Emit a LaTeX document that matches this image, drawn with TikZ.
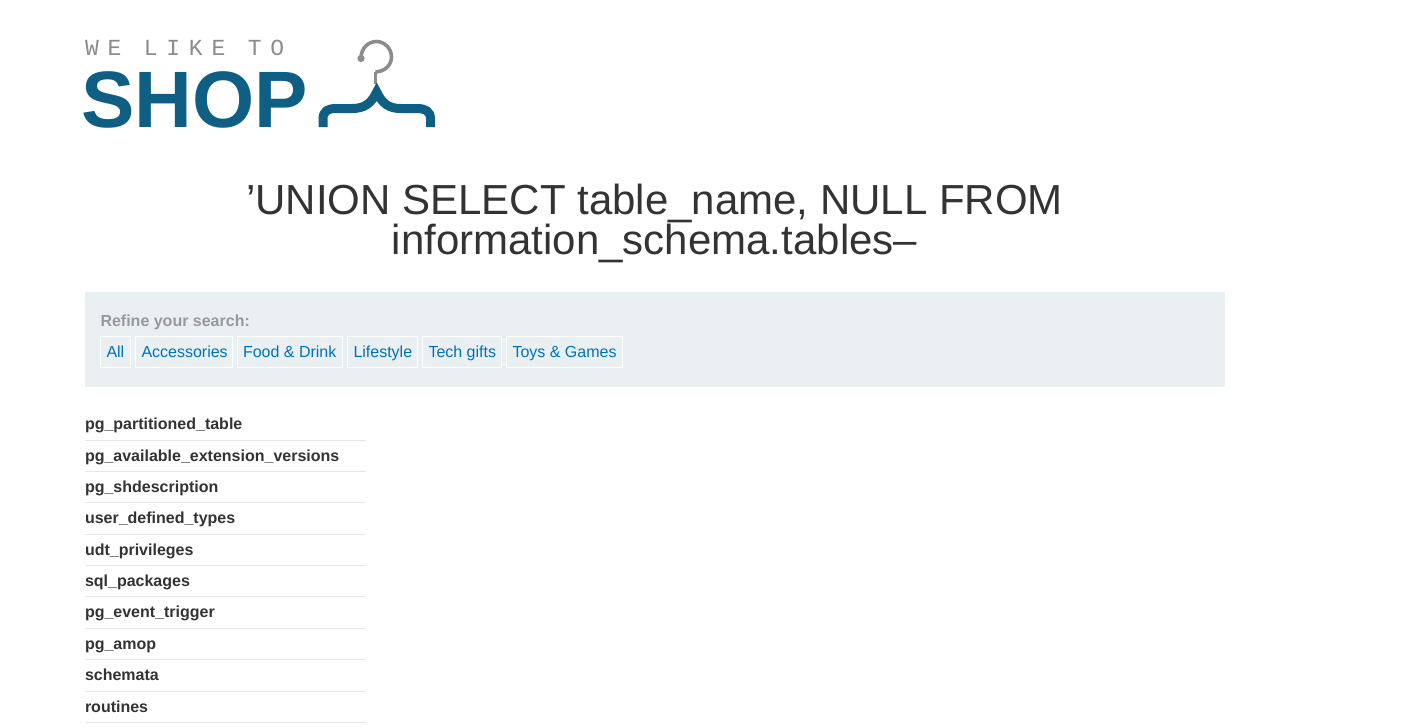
\documentclass[tikz,border=0pt]{standalone}
\usepackage{fontspec}
\setmainfont{Liberation Sans}
\newfontfamily\monofam[LetterSpace=38]{Liberation Mono}
\definecolor{logoblue}{HTML}{0F5F85}
\definecolor{logogray}{HTML}{8C8C8C}
\definecolor{panelbg}{HTML}{EAEFF2}
\definecolor{linkblue}{HTML}{0071BC}
\definecolor{inktext}{HTML}{333333}
\definecolor{rulegray}{HTML}{E6E6E6}
\definecolor{refinegray}{HTML}{999999}
\tikzset{
  x=1pt,y=-1pt,
  txt/.style={inner sep=0pt,outer sep=0pt,anchor=base west},
  heading/.style={inner sep=0pt,anchor=base,text=inktext,font=\fontsize{42}{42}\selectfont},
  tagbox/.style={draw=white,line width=1pt,fill=panelbg},
  taglabel/.style={txt,text=linkblue,font=\fontsize{16}{16}\selectfont},
  item/.style={txt,text=inktext,font=\fontsize{16}{16}\selectfont\bfseries},
  sep/.style={draw=rulegray,line width=1pt}
}
\newcommand{\tagitem}[4]{%
  \draw[tagbox] (#1,336.5) rectangle (#2,367.5);
  \node[taglabel] (#4) at (#1+6,357.5) {#3};}
\begin{document}
\begin{tikzpicture}
\useasboundingbox (0,0) rectangle (1427,726);
\fill[white] (0,0) rectangle (1427,726);
% logo
\node[txt,text=logogray,font=\fontsize{23}{23}\selectfont\monofam] (we) at (85,55.5) {WE LIKE TO};
\node[txt,text=logoblue,font=\fontsize{80}{80}\selectfont\bfseries] (shop) at (81,127) {SHOP};
\draw[logogray,line width=3.6pt] (375.5,84) -- (375.5,72) arc[start angle=95,end angle=-190,radius=0] ;
\draw[logogray,line width=3.6pt] (375.5,72) .. controls (385,71.5) and (391.5,65) .. (391.5,57)
  .. controls (391.5,48) and (384,41.5) .. (376.5,41.5) .. controls (368,41.5) and (361,48.5) .. (361,58);
\fill[logogray] (361,58.5) circle[radius=3.6];
\draw[logoblue,line width=9pt] (323,127) -- (323,119) .. controls (323,111) and (328,108.5) .. (336,108.5)
  -- (352,108.5) .. controls (364,108.5) and (371,104) .. (376.7,92)
  .. controls (382.5,104) and (389,108.5) .. (401,108.5) -- (417,108.5)
  .. controls (425,108.5) and (430.5,111) .. (430.5,119) -- (430.5,127);
% heading
\node[heading] (h1) at (654.5,214) {'UNION SELECT table\_name, NULL FROM};
\node[heading] (h2) at (654.5,254) {information\_schema.tables--};
% panel
\fill[panelbg] (85,292) rectangle (1225,387);
\node[txt,text=refinegray,font=\fontsize{16}{16}\selectfont\bfseries] (refine) at (100.5,326) {Refine your search:};
\tagitem{100.5}{130.5}{All}{t1}
\tagitem{135.5}{232.5}{Accessories}{t2}
\tagitem{237}{342.5}{Food \& Drink}{t3}
\tagitem{347.5}{417.5}{Lifestyle}{t4}
\tagitem{422.5}{501.5}{Tech gifts}{t5}
\tagitem{506.5}{622.5}{Toys \& Games}{t6}
% list
\node[item] (i1) at (85,429) {pg\_partitioned\_table};
\draw[sep] (85,440.5) -- (365.5,440.5);
\node[item] (i2) at (85,461) {pg\_available\_extension\_versions};
\draw[sep] (85,471.5) -- (365.5,471.5);
\node[item] (i3) at (85,492) {pg\_shdescription};
\draw[sep] (85,502.5) -- (365.5,502.5);
\node[item] (i4) at (85,523.5) {user\_defined\_types};
\draw[sep] (85,534.5) -- (365.5,534.5);
\node[item] (i5) at (85,555) {udt\_privileges};
\draw[sep] (85,565.5) -- (365.5,565.5);
\node[item] (i6) at (85,586) {sql\_packages};
\draw[sep] (85,596.5) -- (365.5,596.5);
\node[item] (i7) at (85,617) {pg\_event\_trigger};
\draw[sep] (85,628.5) -- (365.5,628.5);
\node[item] (i8) at (85,649) {pg\_amop};
\draw[sep] (85,659.5) -- (365.5,659.5);
\node[item] (i9) at (85,680) {schemata};
\draw[sep] (85,691.5) -- (365.5,691.5);
\node[item] (i10) at (85,712) {routines};
\draw[sep] (85,722.5) -- (365.5,722.5);
\end{tikzpicture}
\end{document}
